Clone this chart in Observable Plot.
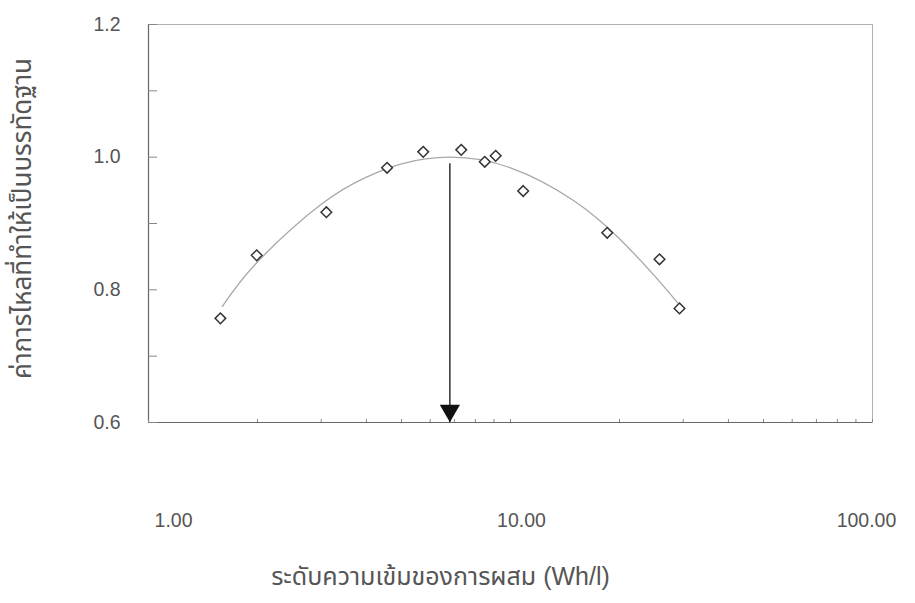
<!DOCTYPE html>
<html><head><meta charset="utf-8">
<script src="https://cdn.jsdelivr.net/npm/d3@7"></script>
<script src="https://cdn.jsdelivr.net/npm/@observablehq/plot@0.6"></script>
<style>body{margin:0;background:#fff}</style>
</head><body><div id="chart"></div>
<script>
const concentration = [1.58, 1.99, 3.10, 4.56, 5.74, 7.31, 8.49, 9.10, 10.84, 18.5, 25.8, 29.3];
const normalizedFlow = [0.757, 0.852, 0.917, 0.984, 1.008, 1.011, 0.993, 1.002, 0.949, 0.886, 0.846, 0.772];
const fitX = [1.6, 2, 3, 4, 5, 6.8, 10, 15, 20, 25, 29];
const fitY = [0.775, 0.842, 0.929, 0.970, 0.990, 1.0, 0.984, 0.934, 0.877, 0.821, 0.780];
const optimumX = 6.8;
const optimumTop = 0.99;
const yTickValues = [0.6, 0.8, 1.0, 1.2];
const yMinorTicks = [0.7, 0.9, 1.1];
const xTickValues = [1, 10, 100];
const xMinorTicks = [2, 3, 4, 5, 6, 7, 8, 9, 20, 30, 40, 50, 60, 70, 80, 90];
const xTitle = "ระดับความเข้มของการผสม (Wh/l)";
const yTitle = "ค่าการไหลที่ทำให้เป็นบรรทัดฐาน";

const points = concentration.map((c, i) => ({x: c, y: normalizedFlow[i]}));
const fit = fitX.map((c, i) => ({x: c, y: fitY[i]}));
const FONT = "Liberation Sans, Arial, 'Noto Sans Thai', 'Noto Sans', sans-serif";
const TICK_FS = 19.5;

const chart = Plot.plot({
  width: 915, height: 603,
  marginLeft: 148, marginRight: 43, marginTop: 24, marginBottom: 181,
  style: {fontFamily: FONT, fontSize: "19px", color: "#555", background: "#fff"},
  x: {type: "log", domain: [1, 100]},
  y: {domain: [0.6, 1.2]},
  marks: [
    Plot.frame({stroke: "#b0b0b0"}),
    Plot.ruleX([1], {stroke: "#666", strokeWidth: 1.2}),
    Plot.ruleY([0.6], {stroke: "#666", strokeWidth: 1.2}),
    Plot.axisY({ticks: yTickValues, tickSize: 0, tickPadding: 28, tickFormat: d => d.toFixed(1), label: null, fill: "#555", fontSize: TICK_FS}),
    Plot.axisY({ticks: [...yTickValues, ...yMinorTicks], tickSize: -9, tickFormat: () => "", label: null, stroke: "#888"}),
    Plot.axisX({ticks: [1], tickSize: 0, tickPadding: 91, dx: 25, tickFormat: d => d.toFixed(2), label: null, fill: "#555", fontSize: TICK_FS}),
    Plot.axisX({ticks: [10], tickSize: 0, tickPadding: 91, dx: 11, tickFormat: d => d.toFixed(2), label: null, fill: "#555", fontSize: TICK_FS}),
    Plot.axisX({ticks: [100], tickSize: 0, tickPadding: 91, dx: -6, tickFormat: d => d.toFixed(2), label: null, fill: "#555", fontSize: TICK_FS}),
    Plot.axisX({ticks: [...xTickValues, ...xMinorTicks], tickSize: -3, tickFormat: () => "", label: null, stroke: "#888"}),
    Plot.line(fit, {x: "x", y: "y", curve: "natural", stroke: "#a8a8a8", strokeWidth: 1.3}),
    Plot.ruleX([optimumX], {y1: optimumTop, y2: 0.6, stroke: "#222", strokeWidth: 1.4}),
    Plot.dot([{x: optimumX, y: 0.6}], {x: "x", y: "y", symbol: "triangle", r: 7.5, rotate: 180, fill: "#111", stroke: "none", dy: -12}),
    Plot.dot(points, {x: "x", y: "y", symbol: "diamond2", r: 4.8, stroke: "#333", strokeWidth: 1.5, fill: "#fff"}),
    Plot.text([yTitle], {frameAnchor: "left", textAnchor: "middle", lineAnchor: "middle", rotate: -90, dx: -126, dy: -5, fontSize: 26, fill: "#555"}),
    Plot.text([xTitle], {frameAnchor: "bottom", textAnchor: "middle", lineAnchor: "middle", dy: 154, dx: -70, fontSize: 25, fill: "#555"})
  ]
});
document.getElementById("chart").appendChild(chart);
</script>
</body></html>
